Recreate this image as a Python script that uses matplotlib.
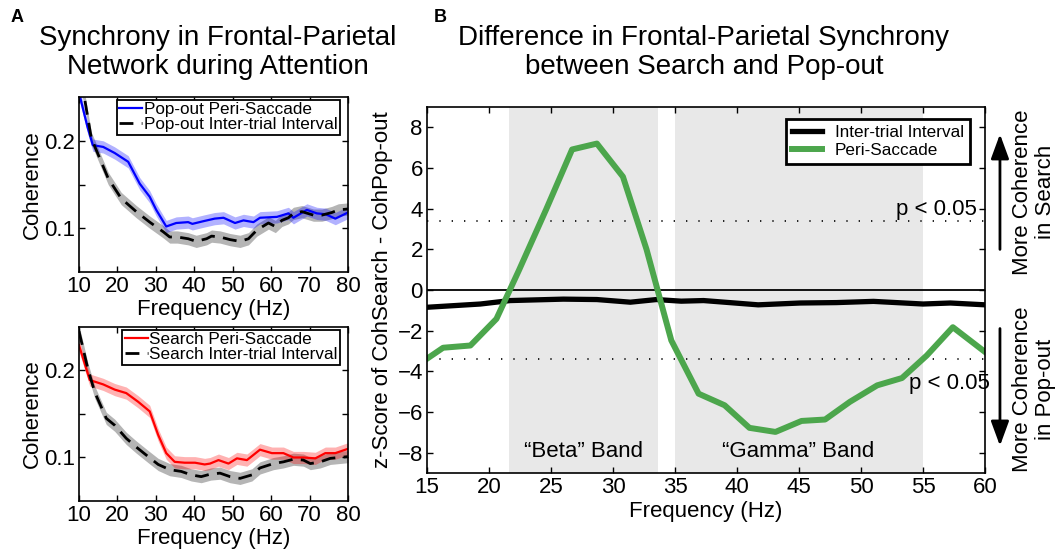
"""
额顶网络同步性：Pop-out / Search 相干性与 z-score 差异
"""

import matplotlib
matplotlib.use("Agg")
import matplotlib.pyplot as plt

plt.rcParams["font.family"] = ["Liberation Sans", "DejaVu Sans"]
plt.rcParams["axes.linewidth"] = 1.2

# ---- 面板 A 上：Pop-out ----
popout_peri_x = [10, 12.2, 13.6, 16.3, 19.3, 22.8, 25.8, 28.4, 30.1, 32.7, 35.3, 38.4, 39.5,
                 42.3, 45.3, 47.6, 50.6, 52.8, 55.4, 57.1, 61.5, 64.5, 65.8, 69.3, 71.9,
                 74.2, 76.7, 80]
popout_peri_y = [0.255, 0.216, 0.195, 0.193, 0.186, 0.176, 0.151, 0.136, 0.121, 0.102, 0.106,
                 0.107, 0.105, 0.108, 0.111, 0.112, 0.106, 0.109, 0.107, 0.112, 0.113, 0.117,
                 0.112, 0.121, 0.117, 0.116, 0.111, 0.118]
popout_iti_x = [10, 11.5, 13.2, 15.4, 17.6, 21.0, 24.9, 28.4, 31.9, 33.6, 35.6, 38.4, 40.5,
                43.2, 44.5, 46.7, 49.3, 51.9, 54.1, 56.3, 59.3, 61.1, 62.8, 64.5, 65.8, 68.0,
                71.0, 73.2, 75.8, 77.5, 80]
popout_iti_y = [0.27, 0.247, 0.203, 0.18, 0.157, 0.134, 0.119, 0.107, 0.096, 0.090, 0.090,
                0.088, 0.085, 0.088, 0.091, 0.090, 0.087, 0.085, 0.088, 0.098, 0.106, 0.102,
                0.109, 0.112, 0.117, 0.119, 0.115, 0.115, 0.118, 0.121, 0.122]

# ---- 面板 A 下：Search ----
search_peri_x = [10, 12.8, 16.3, 19.3, 22.3, 25.4, 28.4, 30.6, 32.7, 34.9, 37.5, 40.2, 42.7,
                 44.1, 46.3, 48.9, 51.1, 53.7, 57.1, 60.2, 63.2, 65.8, 68.4, 71.5, 74.1,
                 76.7, 80]
search_peri_y = [0.229, 0.189, 0.184, 0.178, 0.174, 0.164, 0.153, 0.126, 0.105, 0.095, 0.094,
                 0.094, 0.092, 0.093, 0.097, 0.093, 0.099, 0.097, 0.109, 0.105, 0.105, 0.100,
                 0.100, 0.099, 0.105, 0.105, 0.110]
search_iti_x = [10, 12.3, 14.1, 17.1, 19.3, 22.3, 24.9, 28.0, 30.6, 33.6, 36.6, 39.2, 41.8,
                44.3, 46.7, 49.3, 51.9, 55.0, 57.1, 60.6, 63.2, 65.8, 68.4, 70.2, 72.8, 75.4, 80]
search_iti_y = [0.245, 0.202, 0.175, 0.145, 0.137, 0.122, 0.112, 0.101, 0.092, 0.086, 0.084,
                0.080, 0.078, 0.081, 0.082, 0.078, 0.076, 0.080, 0.088, 0.093, 0.095, 0.098,
                0.097, 0.093, 0.095, 0.099, 0.101]
sem_a = 0.007

# ---- 面板 B：z-score ----
z_iti_x = [15, 19.3, 21.7, 26, 28.7, 31.4, 33.5, 35.5, 37.3, 41.7, 45.1, 48, 51, 55, 57.2, 60]
z_iti_y = [-0.85, -0.69, -0.52, -0.45, -0.47, -0.6, -0.47, -0.55, -0.52, -0.73, -0.64, -0.62,
           -0.56, -0.69, -0.64, -0.73]
z_peri_x = [15, 16.3, 18.5, 20.6, 22.4, 24.6, 26.7, 28.7, 30.8, 32.7, 34.7, 36.9, 39.0, 41.0,
            43.1, 45.2, 47.1, 49.1, 51.3, 53.3, 55.3, 57.4, 60]
z_peri_y = [-3.38, -2.84, -2.73, -1.42, 0.95, 3.95, 6.91, 7.2, 5.57, 2.0, -2.48, -5.1, -5.67,
            -6.78, -6.98, -6.44, -6.37, -5.5, -4.69, -4.33, -3.22, -1.83, -3.05]
p_thresh = 3.4
beta_band = (21.6, 33.6)
gamma_band = (35.0, 55.0)

FS = 16


def style_ax(ax):
    ax.tick_params(direction="in", top=True, right=True, length=4, width=1,
                   labelsize=FS, pad=3)


def coherence_panel(ax, x1, y1, c1, lab1, x2, y2, lab2):
    """画一个相干性小图"""
    ax.fill_between(x2, [v - sem_a for v in y2], [v + sem_a for v in y2],
                    color="#a8a8a8", alpha=0.85, lw=0)
    ax.fill_between(x1, [v - sem_a for v in y1], [v + sem_a for v in y1],
                    color=c1, alpha=0.3, lw=0)
    ax.plot(x1, y1, color=c1, lw=1.6, label=lab1)
    ax.plot(x2, y2, color="black", lw=2, dashes=(5, 3), label=lab2)
    ax.set_xlim(10, 80)
    ax.set_ylim(0.05, 0.25)
    ax.set_xticks(range(10, 81, 10))
    ax.set_yticks([0.1, 0.15, 0.2])
    ax.set_yticklabels(["0.1", "", "0.2"])
    ax.set_xlabel("Frequency (Hz)", fontsize=FS, labelpad=1)
    ax.set_ylabel("Coherence", fontsize=FS, labelpad=1)
    style_ax(ax)
    leg = ax.legend(loc="upper right", bbox_to_anchor=(0.972, 0.985), borderaxespad=0,
                    fontsize=12.3, handlelength=1.35, handletextpad=0.1, labelspacing=0.0,
                    borderpad=0.15, fancybox=False, framealpha=1, edgecolor="black")
    leg.get_frame().set_linewidth(1.3)


fig = plt.figure(figsize=(10.59, 5.5), dpi=100)
ax_a1 = fig.add_axes([0.0746, 0.5055, 0.254, 0.318])
ax_a2 = fig.add_axes([0.0746, 0.0891, 0.254, 0.3164])
ax_b = fig.add_axes([0.4032, 0.14, 0.527, 0.6655])

coherence_panel(ax_a1, popout_peri_x, popout_peri_y, "#0000ff", "Pop-out Peri-Saccade",
                popout_iti_x, popout_iti_y, "Pop-out Inter-trial Interval")
coherence_panel(ax_a2, search_peri_x, search_peri_y, "#ff0000", "Search Peri-Saccade",
                search_iti_x, search_iti_y, "Search Inter-trial Interval")

# 面板 B
ax_b.axvspan(*beta_band, color="#e8e8e8", lw=0, zorder=0)
ax_b.axvspan(*gamma_band, color="#e8e8e8", lw=0, zorder=0)
ax_b.axhline(0, color="black", lw=1.3)
for s in (1, -1):
    ax_b.axhline(s * p_thresh, color="black", lw=1.2, dashes=(0.8, 6.6))
ax_b.plot(z_iti_x, z_iti_y, color="black", lw=3.8, label="Inter-trial Interval")
ax_b.plot(z_peri_x, z_peri_y, color="#4ca64c", lw=4.3, label="Peri-Saccade")
ax_b.set_xlim(15, 60)
ax_b.set_ylim(-9, 9)
ax_b.set_xticks(range(15, 61, 5))
ax_b.set_yticks(range(-8, 9, 2))
ax_b.set_xlabel("Frequency (Hz)", fontsize=FS, labelpad=2)
ax_b.set_ylabel("z-Score of CohSearch - CohPop-out", fontsize=FS, labelpad=3)
style_ax(ax_b)
leg = ax_b.legend(loc="upper right", bbox_to_anchor=(0.973, 0.967), borderaxespad=0,
                  fontsize=12.3, handlelength=1.75, handletextpad=0.75, labelspacing=0.15,
                  borderpad=0.35, fancybox=False, framealpha=1, edgecolor="black")
leg.get_frame().set_linewidth(2)

ax_b.text(59.3, 3.95, "p < 0.05", ha="right", va="center", fontsize=FS)
ax_b.text(60.4, -4.6, "p < 0.05", ha="right", va="center", fontsize=FS)
ax_b.text(27.6, -7.94, "\u201cBeta\u201d Band", ha="center", va="center", fontsize=FS)
ax_b.text(44.9, -7.94, "\u201cGamma\u201d Band", ha="center", va="center", fontsize=FS)

# 右侧箭头与说明
arrow_kw = dict(arrowstyle="-|>,head_length=1.5,head_width=0.55", color="black", lw=2)
ax_b.annotate("", xy=(61.2, 7.8), xytext=(61.2, 1.86), arrowprops=arrow_kw,
              annotation_clip=False)
ax_b.annotate("", xy=(61.2, -7.8), xytext=(61.2, -1.76), arrowprops=arrow_kw,
              annotation_clip=False)
fig.text(1034 / 1059, 1 - 192 / 550, "More Coherence\nin Search", rotation=90,
         ha="center", va="center", fontsize=FS, linespacing=1.1)
fig.text(1034 / 1059, 1 - 389 / 550, "More Coherence\nin Pop-out", rotation=90,
         ha="center", va="center", fontsize=FS, linespacing=1.1)

# 标题
fig.text(218 / 1059, 0.905, "Synchrony in Frontal-Parietal\nNetwork during Attention",
         ha="center", va="center", fontsize=20, linespacing=1.15)
fig.text(704 / 1059, 0.905, "Difference in Frontal-Parietal Synchrony\nbetween Search and Pop-out",
         ha="center", va="center", fontsize=20, linespacing=1.15)
fig.text(17 / 1059, 1 - 18 / 550, "A", ha="center", va="center", fontsize=13,
         fontweight="bold")
fig.text(440 / 1059, 1 - 18 / 550, "B", ha="center", va="center", fontsize=13,
         fontweight="bold")

fig.savefig("out.png", dpi=100)
